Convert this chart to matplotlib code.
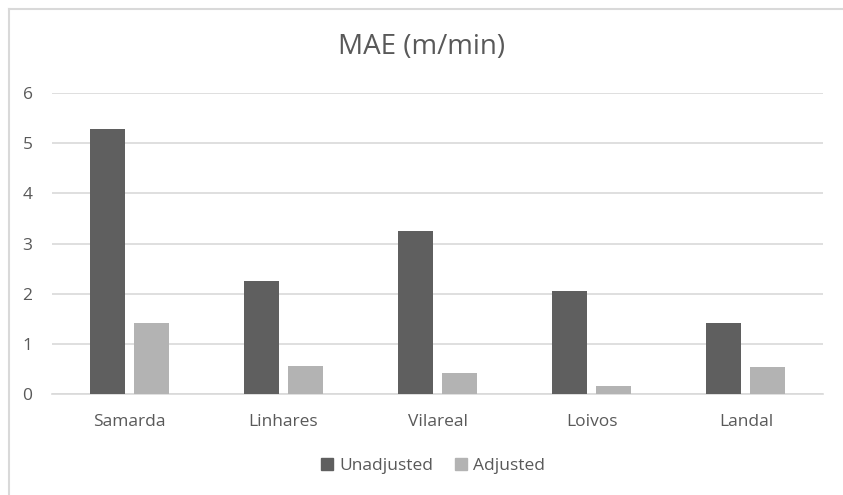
import matplotlib
matplotlib.use("Agg")
import matplotlib.pyplot as plt
from matplotlib.lines import Line2D
import numpy as np

plt.rcParams['font.family'] = ['Open Sans', 'DejaVu Sans']

sites = ["Samarda", "Linhares", "Vilareal", "Loivos", "Landal"]
unadjusted = [5.27, 2.26, 3.24, 2.06, 1.41]
adjusted = [1.41, 0.57, 0.43, 0.17, 0.54]
y_ticks = [0, 1, 2, 3, 4, 5, 6]

text_col = "#595959"
grid_col = "#d9d9d9"
dark = "#5f5f5f"
light = "#b3b3b3"

fig = plt.figure(figsize=(8.43, 4.95), dpi=100)
ax = fig.add_axes([52 / 843, 1 - 394.3 / 495, (823 - 52) / 843, (394.3 - 92.7) / 495])

x = np.arange(len(sites))
w = 0.227
off = w / 2 + 0.029
ax.bar(x - off, unadjusted, w, color=dark, label="Unadjusted", zorder=3)
ax.bar(x + off, adjusted, w, color=light, label="Adjusted", zorder=3)

ax.set_xlim(-0.5, len(sites) - 0.5)
ax.set_ylim(0, 6)
ax.set_yticks(y_ticks)
ax.set_xticks(x)
ax.set_xticklabels(sites)
ax.yaxis.grid(True, color=grid_col, linewidth=1.2, zorder=0)
for s in ["top", "right", "left"]:
    ax.spines[s].set_visible(False)
ax.spines["bottom"].set_color(grid_col)
ax.spines["bottom"].set_linewidth(1.2)
ax.tick_params(axis="both", length=0, colors=text_col, labelsize=12.5)
ax.tick_params(axis="y", pad=14)
ax.tick_params(axis="x", pad=14)

fig.text(0.5, 1 - 47 / 495, "MAE (m/min)", ha="center", va="center",
         fontsize=20, color=text_col)

handles = [Line2D([], [], marker="s", linestyle="none", markersize=9, color=dark),
           Line2D([], [], marker="s", linestyle="none", markersize=9, color=light)]
fig.legend(handles, ["Unadjusted", "Adjusted"], loc="center",
           bbox_to_anchor=(432 / 843, 1 - 466 / 495), ncol=2, frameon=False,
           fontsize=12.5, labelcolor=text_col, handletextpad=0.2, columnspacing=1.1,
           handlelength=1.0)

# chart border
fig.add_artist(Line2D([9 / 843, 9 / 843], [0, 1 - 9 / 495], transform=fig.transFigure,
                      color="#d9d9d9", linewidth=1.5))
fig.add_artist(Line2D([9 / 843, 1], [1 - 9 / 495, 1 - 9 / 495], transform=fig.transFigure,
                      color="#d9d9d9", linewidth=1.5))

fig.savefig("out.png", dpi=100, facecolor="white")
